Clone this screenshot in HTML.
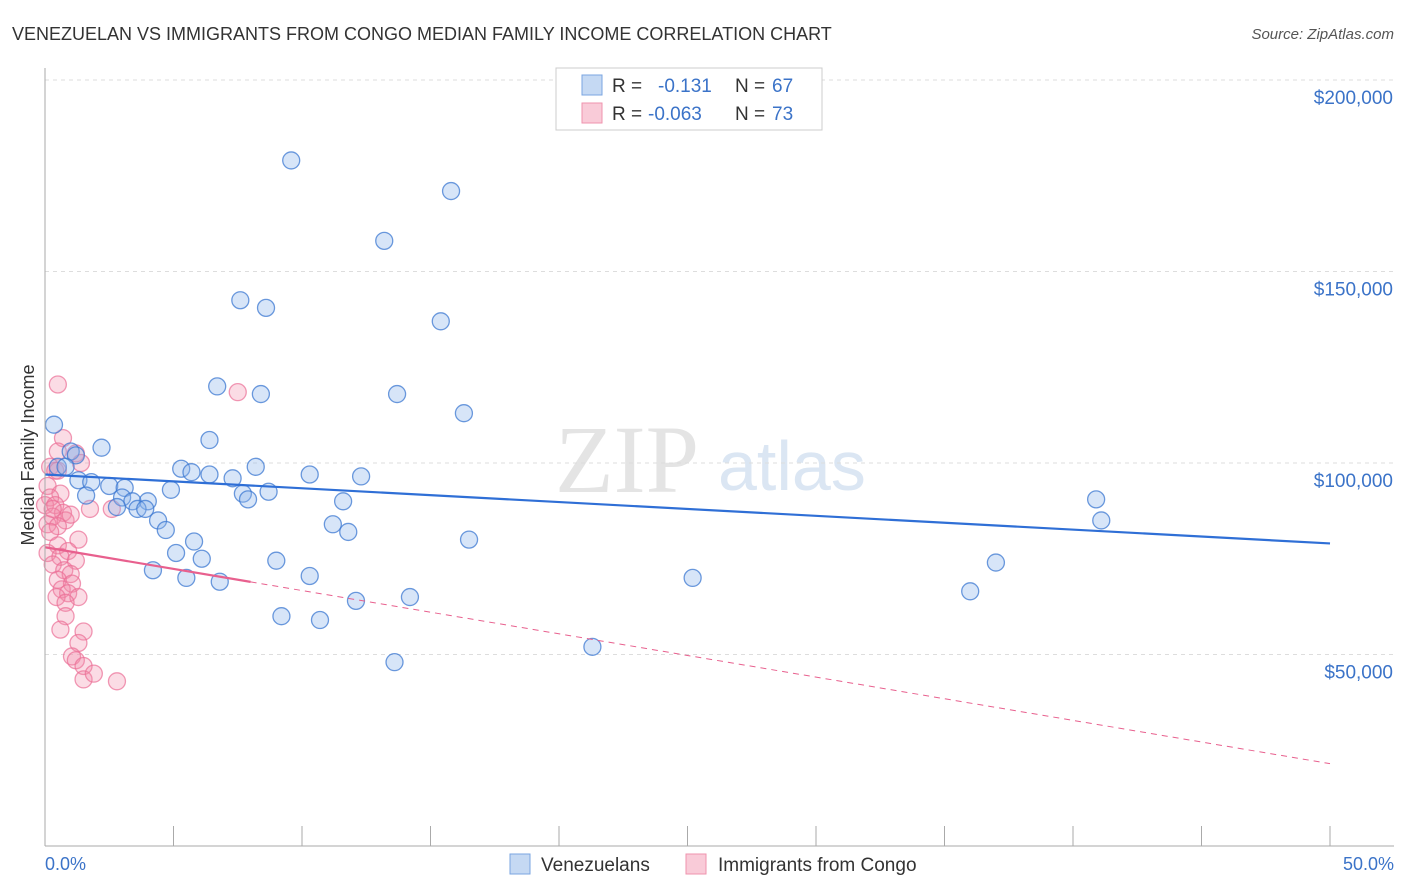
<!DOCTYPE html>
<html><head><meta charset="utf-8"><style>
body{margin:0;background:#fff;font-family:"Liberation Sans",sans-serif;}
#c{position:relative;width:1406px;height:892px;overflow:hidden}
</style></head><body>
<div id="c">
<svg id="s" width="1406" height="892">
<text x="12" y="40" font-size="18" fill="#333">VENEZUELAN VS IMMIGRANTS FROM CONGO MEDIAN FAMILY INCOME CORRELATION CHART</text>
<text x="1394" y="39" font-size="15" fill="#555" text-anchor="end" font-style="italic">Source: ZipAtlas.com</text>
<text x="34" y="455" font-size="18" fill="#333" text-anchor="middle" transform="rotate(-90 34 455)">Median Family Income</text>
<text x="555" y="492" font-size="96" fill="#e4e4e4" font-family="Liberation Serif,serif">ZIP</text>
<text x="718" y="490" font-size="70" fill="#dbe6f3">atlas</text>
<g id="grid"></g><g id="pts"></g><g id="lines"></g>
<line x1="45" y1="68" x2="45" y2="846" stroke="#aaa"/>
<line x1="45" y1="846" x2="1394" y2="846" stroke="#aaa"/>
<text x="45" y="870" font-size="18" fill="#3b73c8">0.0%</text>
<text x="1394" y="870" font-size="18" fill="#3b73c8" text-anchor="end">50.0%</text>
<g>
<rect x="556" y="68" width="266" height="62" fill="#fff" stroke="#ccc"/>
<rect x="582" y="75" width="20" height="20" fill="#c5d9f3" stroke="#7aa5e0"/>
<rect x="582" y="103" width="20" height="20" fill="#f9cbd8" stroke="#ef93ae"/>
<text x="612" y="92" font-size="19" fill="#333">R = </text><text x="658" y="92" font-size="19" fill="#3b73c8">-0.131</text>
<text x="735" y="92" font-size="19" fill="#333">N = </text><text x="772" y="92" font-size="19" fill="#3b73c8">67</text>
<text x="612" y="120" font-size="19" fill="#333">R = </text><text x="648" y="120" font-size="19" fill="#3b73c8">-0.063</text>
<text x="735" y="120" font-size="19" fill="#333">N = </text><text x="772" y="120" font-size="19" fill="#3b73c8">73</text>
</g>
<g>
<rect x="510" y="854" width="20" height="20" fill="#c5d9f3" stroke="#7aa5e0"/>
<text x="541" y="871" font-size="19" fill="#333">Venezuelans</text>
<rect x="686" y="854" width="20" height="20" fill="#f9cbd8" stroke="#ef93ae"/>
<text x="718" y="871" font-size="19" fill="#333">Immigrants from Congo</text>
</g>
</svg></div>
<script>
const yTicks=[50000,100000,150000,200000];
const yTickLabels=["$50,000","$100,000","$150,000","$200,000"];
const xTicks=[0,5,10,15,20,25,30,35,40,45,50];
const blueX=[9.58,15.8,13.2,7.6,8.6,15.4,6.7,8.4,13.7,16.3,0.35,6.4,2.2,1.0,1.2,0.5,0.8,5.3,5.7,6.4,8.2,7.3,10.3,12.3,1.3,1.8,2.5,3.1,4.9,7.7,8.7,1.6,3.0,4.0,3.4,11.6,7.9,40.9,2.8,3.6,3.9,4.4,41.1,11.2,4.7,11.8,16.5,5.8,5.1,6.1,9.0,37.0,4.2,5.5,10.3,6.8,25.2,36.0,14.2,12.1,9.2,10.7,21.3,13.6];
const blueY=[179,171,158,142.5,140.5,137,120,118,118,113,110,106,104,103,102,99,99,98.5,97.6,97,99,96,97,96.5,95.5,95,94,93.5,93,92,92.5,91.5,91,90,90,90,90.5,90.5,88.5,88,88,85,85,84,82.5,82,80,79.5,76.5,75,74.5,74,72,70,70.5,69,70,66.5,65,64,60,59,52,48];
const pinkX=[0.5,7.5,0.7,0.5,1.2,1.4,0.2,0.4,0.1,0.6,0.2,0,0.4,0.7,1.75,2.6,0.3,0.8,0.1,0.5,0.2,1.3,0.5,0.9,0.1,0.6,1.2,0.3,0.75,1,0.5,1.05,0.65,0.9,0.45,1.3,0.8,0.8,0.6,1.5,1.3,1.05,1.2,1.5,1.5,1.9,2.8,0.5,0.3,1];
const pinkY=[120.5,118.5,106.5,103,102.5,100,99,98,94,92,91,89,89,87,88,88,86,85,84,83.5,82,80,78.5,77,76.5,75.5,74.5,73.5,72,71,69.5,68.5,67,66,65,65,63.5,60,56.5,56,53,49.5,48.5,47,43.5,45,43,98,88,86.5];
const blueTrend=[97,79];   // $k at 0% and 50%
const pinkTrend=[78,21.5];
const pinkSolidEnd=8;
const X=v=>45+v/50*1285, Y=v=>846-v/50000*191.5;
const NS="http://www.w3.org/2000/svg";
function mk(p,t,a){const e=document.createElementNS(NS,t);for(const k in a)e.setAttribute(k,a[k]);p.appendChild(e);return e;}
const grid=document.getElementById('grid'),pts=document.getElementById('pts'),lines=document.getElementById('lines');
yTicks.forEach((v,i)=>{
 const l=mk(grid,'line',{x1:45,x2:1394,y1:Y(v),y2:Y(v),stroke:'#ddd','stroke-dasharray':'4 4'});
 
 
 const t=mk(grid,'text',{x:1393,y:Y(v)+24,'font-size':19,fill:'#3b73c8','text-anchor':'end'});t.textContent=yTickLabels[i];
 
 
});
const tg=mk(grid,'line',{x1:45,x2:1394,y1:Y(200000)-2,y2:Y(200000)-2,stroke:'#fff'});
xTicks.forEach(v=>{
 const l=mk(grid,'line',{x1:X(v),x2:X(v),y1:826,y2:846,stroke:'#aaa'});
 
 
});
pinkX.forEach((x,i)=>{
 const c=mk(pts,'circle',{cx:X(x),cy:Y(pinkY[i]*1000),r:8.5,fill:'rgba(242,140,170,0.3)',stroke:'rgba(235,110,150,0.7)','stroke-width':1.3});
 
 
});
blueX.forEach((x,i)=>{
 const c=mk(pts,'circle',{cx:X(x),cy:Y(blueY[i]*1000),r:8.5,fill:'rgba(140,180,235,0.35)',stroke:'rgba(60,120,210,0.75)','stroke-width':1.3});
 
 
});
const tb=x=>blueTrend[0]+(blueTrend[1]-blueTrend[0])*x/50, tp=x=>pinkTrend[0]+(pinkTrend[1]-pinkTrend[0])*x/50;
let l=mk(lines,'line',{x1:X(0),y1:Y(tb(0)*1000),x2:X(50),y2:Y(tb(50)*1000),stroke:'#2f6fd6','stroke-width':2.2});


l=mk(lines,'line',{x1:X(0),y1:Y(tp(0)*1000),x2:X(pinkSolidEnd),y2:Y(tp(pinkSolidEnd)*1000),stroke:'#e8608e','stroke-width':2.2});


l=mk(lines,'line',{x1:X(pinkSolidEnd),y1:Y(tp(pinkSolidEnd)*1000),x2:X(50),y2:Y(tp(50)*1000),stroke:'#e8608e','stroke-width':1,'stroke-dasharray':'6 5'});


</script>
</body></html>
